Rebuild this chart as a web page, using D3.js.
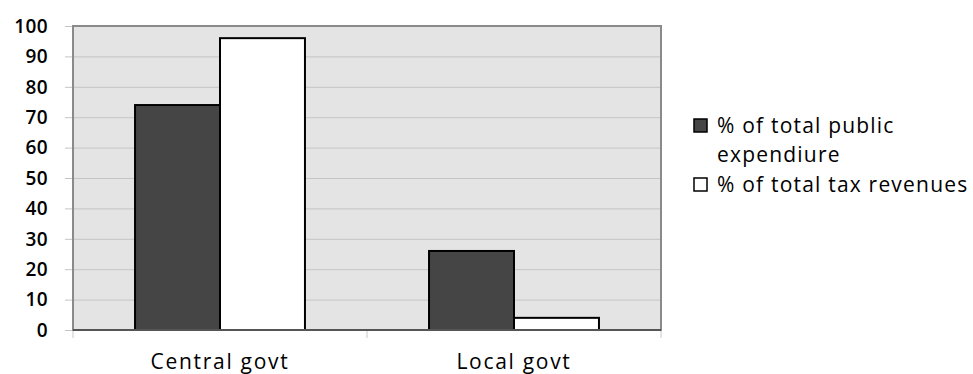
<!DOCTYPE html>
<html>
<head>
<meta charset="utf-8">
<script src="https://cdn.jsdelivr.net/npm/d3@7"></script>
<style>
  html, body { margin: 0; padding: 0; background: #fff; }
  svg { display: block; }
  text { font-family: "Open Sans", "Lato", sans-serif; fill: #000; }
</style>
</head>
<body>
<svg id="chart" width="973" height="374"></svg>
<script>
// Share of public spending and tax take by level of government (%)
const categories = ["Central govt", "Local govt"];
const seriesNames = ["% of total public expendiure", "% of total tax revenues"];
const expenditure = [74, 26];
const taxRevenues = [96, 4];
const yTicks = [0, 10, 20, 30, 40, 50, 60, 70, 80, 90, 100];

const seriesValues = [expenditure, taxRevenues];
const seriesFill = ["#454545", "#ffffff"];

const svg = d3.select("#chart");
const plot = { left: 73, right: 661, top: 26, bottom: 330 };

const x = d3.scaleBand()
  .domain(categories)
  .range([plot.left, plot.right])
  .paddingInner(0.422)
  .paddingOuter(0.211);

const xs = d3.scaleBand()
  .domain(d3.range(seriesNames.length))
  .range([0, x.bandwidth()]);

const y = d3.scaleLinear()
  .domain([0, 100])
  .range([plot.bottom, plot.top]);

// plot background
svg.append("rect")
  .attr("x", plot.left).attr("y", plot.top)
  .attr("width", plot.right - plot.left)
  .attr("height", plot.bottom - plot.top)
  .attr("fill", "#e4e4e4");

// horizontal gridlines with short ticks to the left
svg.append("g")
  .attr("transform", `translate(${plot.left},0)`)
  .call(d3.axisLeft(y).tickValues(yTicks).tickSize(-(plot.right - plot.left)).tickFormat(""))
  .call(g => g.select(".domain").remove())
  .call(g => g.selectAll(".tick line").attr("stroke", "#c4c4c4").attr("x1", -8));

// y tick labels
svg.append("g")
  .selectAll("text")
  .data(yTicks)
  .join("text")
  .attr("x", 48)
  .attr("y", d => y(d))
  .attr("dy", "0.36em")
  .attr("text-anchor", "end")
  .attr("font-size", 19)
  .attr("font-weight", 600)
  .attr("letter-spacing", 0.4)
  .text(d => d);

// category separator ticks below the axis
const sepX = [plot.left, (plot.left + plot.right) / 2, plot.right];
svg.append("g")
  .selectAll("line")
  .data(sepX)
  .join("line")
  .attr("x1", d => d).attr("x2", d => d)
  .attr("y1", plot.bottom).attr("y2", plot.bottom + 8)
  .attr("stroke", "#c8c8c8").attr("stroke-width", 1);

// plot frame
svg.append("rect")
  .attr("x", plot.left).attr("y", plot.top)
  .attr("width", plot.right - plot.left)
  .attr("height", plot.bottom - plot.top)
  .attr("fill", "none")
  .attr("stroke", "#8a8a8a")
  .attr("stroke-width", 2);

// bars
const groups = svg.append("g")
  .selectAll("g")
  .data(categories)
  .join("g")
  .attr("transform", d => `translate(${x(d)},0)`);

groups.selectAll("rect")
  .data((d, i) => seriesValues.map((vals, s) => ({ s, v: vals[i] })))
  .join("rect")
  .attr("x", d => xs(d.s))
  .attr("y", d => y(d.v))
  .attr("width", xs.bandwidth())
  .attr("height", d => y(0) - y(d.v))
  .attr("fill", d => seriesFill[d.s])
  .attr("stroke", "#000")
  .attr("stroke-width", 2);

// x axis baseline
svg.append("line")
  .attr("x1", plot.left).attr("x2", plot.right)
  .attr("y1", plot.bottom).attr("y2", plot.bottom)
  .attr("stroke", "#555").attr("stroke-width", 2);

// category labels
svg.append("g")
  .selectAll("text")
  .data(categories)
  .join("text")
  .attr("x", d => x(d) + x.bandwidth() / 2)
  .attr("y", 369)
  .attr("text-anchor", "middle")
  .attr("font-size", 21)
  .attr("letter-spacing", 1.7)
  .text(d => d);

// legend
const legendRows = [
  { s: 0, lines: ["% of total public", "expendiure"], y: 125 },
  { s: 1, lines: ["% of total tax revenues"], y: 184 }
];
const legend = svg.append("g");
legendRows.forEach(row => {
  legend.append("rect")
    .attr("x", 694).attr("y", row.y - 6)
    .attr("width", 13).attr("height", 13)
    .attr("fill", seriesFill[row.s])
    .attr("stroke", "#000").attr("stroke-width", 1.5);
  const t = legend.append("text")
    .attr("x", 717).attr("y", row.y)
    .attr("font-size", 21)
    .attr("letter-spacing", 1.2);
  row.lines.forEach((ln, i) => {
    t.append("tspan").attr("x", 717).attr("dy", i === 0 ? "0.36em" : "1.4em").text(ln);
  });
});
</script>
</body>
</html>
